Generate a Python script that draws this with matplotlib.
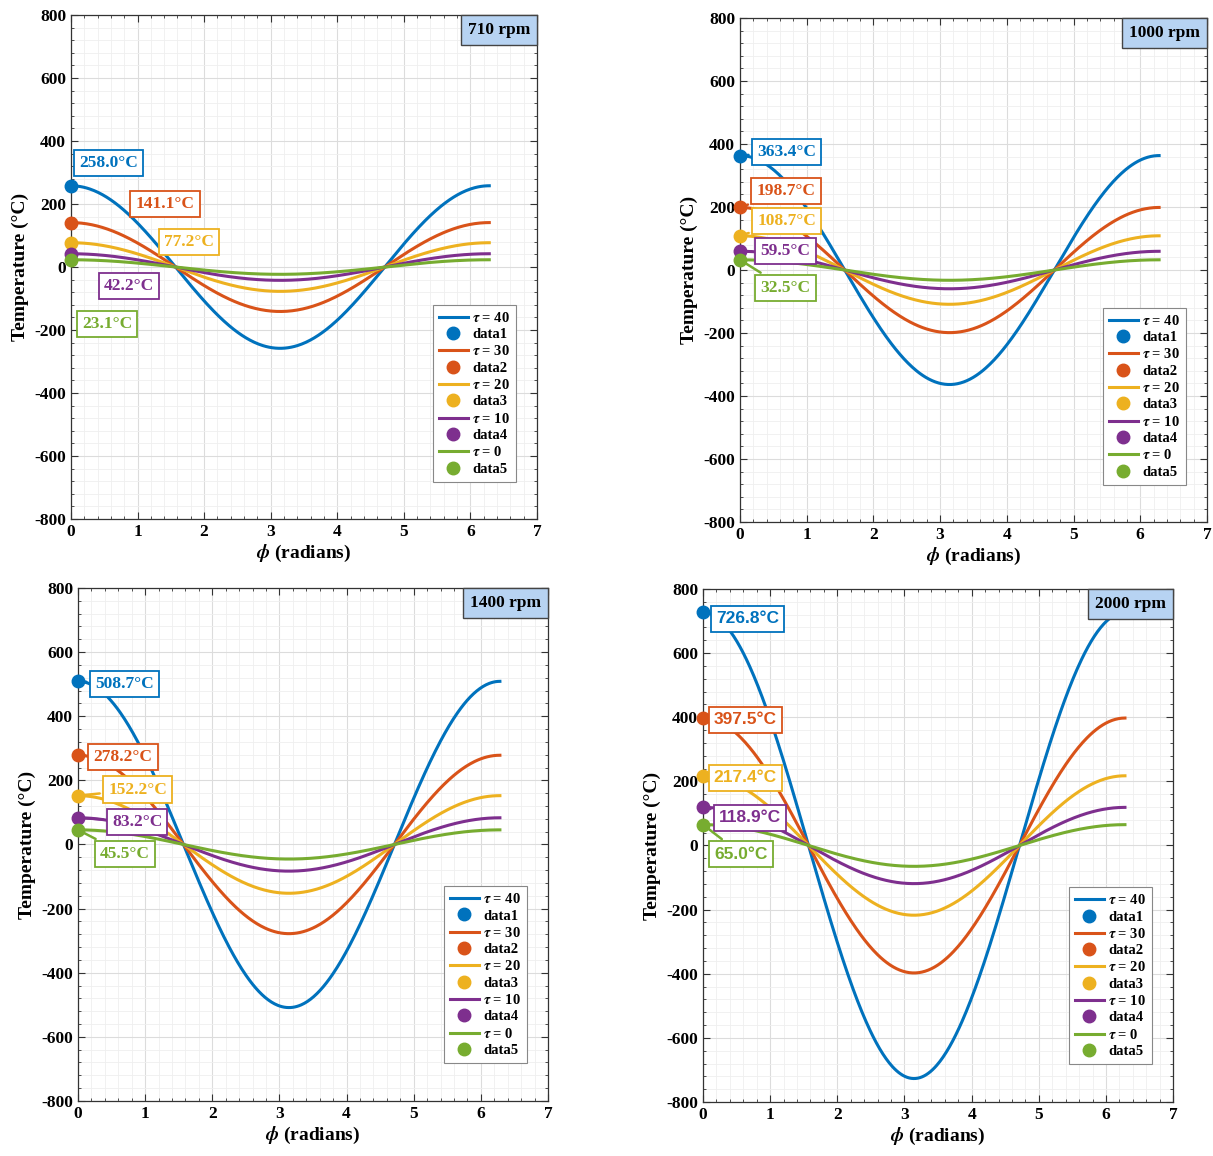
import numpy as np
import matplotlib.pyplot as plt
from matplotlib.ticker import MultipleLocator, AutoMinorLocator
from matplotlib.offsetbox import AnchoredText

plt.rcParams['font.family'] = 'Liberation Serif'
plt.rcParams['font.weight'] = 'bold'
plt.rcParams['mathtext.fontset'] = 'stix'
plt.rcParams['axes.unicode_minus'] = False

# Peak temperature amplitudes (deg C), one per tau
rpm_labels = ['710 rpm', '1000 rpm', '1400 rpm', '2000 rpm']
tau_values = [40, 30, 20, 10, 0]
amp_710 = [258.0, 141.1, 77.2, 42.2, 23.1]
amp_1000 = [363.4, 198.7, 108.7, 59.5, 32.5]
amp_1400 = [508.7, 278.2, 152.2, 83.2, 45.5]
amp_2000 = [726.8, 397.5, 217.4, 118.9, 65.0]

# Label box centres (phi, T) as placed in the figure
lab_710 = [(0.56, 330), (1.41, 200), (1.77, 79), (0.87, -60), (0.54, -181)]
lab_1000 = [(0.70, 375), (0.69, 251), (0.70, 156), (0.68, 60), (0.68, -57)]
lab_1400 = [(0.69, 501), (0.67, 273), (0.89, 171), (0.88, 70), (0.70, -30)]
lab_2000 = [(0.66, 707), (0.63, 392), (0.63, 211), (0.70, 86), (0.57, -27)]

colors = ['#0072BD', '#D95319', '#EDB120', '#7E2F8E', '#77AC30']

panels = [
    (rpm_labels[0], amp_710, lab_710, [0.0585, 0.551, 0.3842, 0.436], 'Liberation Serif', False),
    (rpm_labels[1], amp_1000, lab_1000, [0.610, 0.5484, 0.385, 0.436], 'Liberation Serif', True),
    (rpm_labels[2], amp_1400, lab_1400, [0.0643, 0.0476, 0.3875, 0.4438], 'Liberation Serif', True),
    (rpm_labels[3], amp_2000, lab_2000, [0.5796, 0.0467, 0.3875, 0.4438], 'Liberation Sans', True),
]

phi = np.linspace(0, 2 * np.pi, 400)

fig = plt.figure(figsize=(12.13, 11.56), dpi=100)

for title, amps, labs, pos, lab_font, connect in panels:
    ax = fig.add_axes(pos)
    for i, (A, tau) in enumerate(zip(amps, tau_values)):
        ax.plot(phi, A * np.cos(phi), color=colors[i], lw=2.2,
                label=rf'$\tau$ = {tau}')
        ax.plot(0, A, 'o', color=colors[i], ms=9, clip_on=False,
                label=f'data{i + 1}', zorder=5)
        aprops = dict(arrowstyle='-', color=colors[i], lw=1.8) if connect else None
        ax.annotate(f'{A:.1f}°C', xy=(0, A), xytext=labs[i],
                    ha='center', va='center', color=colors[i],
                    fontsize=12.5, fontweight='bold', family=lab_font,
                    bbox=dict(boxstyle='square,pad=0.3', fc='white',
                              ec=colors[i], lw=1.3),
                    arrowprops=aprops, zorder=6)

    ax.set_xlim(0, 7)
    ax.set_ylim(-800, 800)
    ax.xaxis.set_major_locator(MultipleLocator(1))
    ax.yaxis.set_major_locator(MultipleLocator(200))
    ax.xaxis.set_minor_locator(AutoMinorLocator(5))
    ax.yaxis.set_minor_locator(AutoMinorLocator(5))
    ax.grid(which='major', color='#dcdcdc', lw=0.8)
    ax.grid(which='minor', color='#efefef', lw=0.6)
    ax.set_axisbelow(True)
    ax.tick_params(which='both', direction='in', top=True, right=True,
                   colors='#333333', labelcolor='black', labelsize=12.5)
    ax.tick_params(which='major', length=5)
    ax.tick_params(which='minor', length=2.5)
    for s in ax.spines.values():
        s.set_color('#333333')
        s.set_linewidth(0.9)

    ax.set_xlabel(r'$\phi$ (radians)', fontsize=14, fontweight='bold', labelpad=2)
    ax.set_ylabel('Temperature (°C)', fontsize=14, fontweight='bold', labelpad=4)

    at = AnchoredText(title, loc='upper right', borderpad=0, pad=0.4,
                      prop=dict(fontsize=12.5, fontweight='bold'))
    at.patch.set_facecolor('#B7D3F2')
    at.patch.set_edgecolor('#444444')
    at.patch.set_linewidth(1.0)
    at.patch.set_boxstyle('square,pad=0')
    at.set_zorder(7)
    ax.add_artist(at)

    leg = ax.legend(loc='lower right', bbox_to_anchor=(0.97, 0.06),
                    fontsize=10.5, handlelength=2.0, handletextpad=0.3,
                    labelspacing=0.22, borderpad=0.4, fancybox=False,
                    framealpha=1, edgecolor='#888888')
    leg.get_frame().set_linewidth(0.8)

fig.savefig('out.png', dpi=100)
